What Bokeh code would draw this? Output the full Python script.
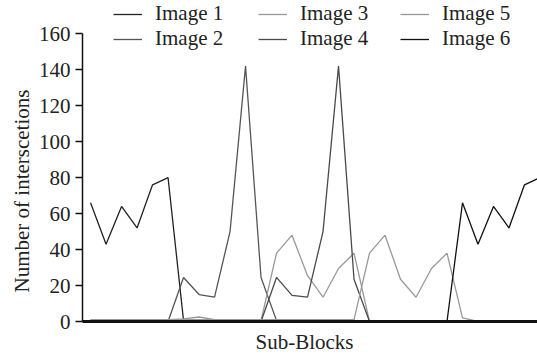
from bokeh.plotting import figure
from bokeh.models import Legend, LegendItem, Range1d, FixedTicker, Title
from bokeh.embed import file_html
from bokeh.resources import INLINE

# ---- data ----
sub_blocks = list(range(30))

image1 = [66, 43, 64, 52, 76, 80, 0.5, 0, 0, 0, 0, 0, 0, 0, 0,
          0, 0, 0, 0, 0, 0, 0, 0, 0, 0, 0, 0, 0, 0, 0]
image2 = [0.5, 0.5, 0.5, 0.5, 0.5, 0, 24.5, 15, 13.5, 50, 142, 24.5, 0.5, 0, 0,
          0, 0, 0, 0, 0, 0, 0, 0, 0, 0, 0, 0, 0, 0, 0]
image3 = [1, 1, 1, 1, 1, 1, 1.5, 2.5, 1, 1, 1, 0.5, 38, 48, 25.5,
          13.5, 29.5, 38, 0, 0, 0, 0, 0, 0, 0, 0, 0, 0, 0, 0]
image4 = [0, 0, 0, 0, 0, 0, 0, 0, 0, 0, 0, 0, 24.5, 14.5, 13.5,
          50, 142, 23.5, 0, 0, 0, 0, 0, 0, 0, 0, 0, 0, 0, 0]
image5 = [1, 1, 1, 1, 1, 1, 1, 1, 1, 1, 1, 1, 1, 1, 1,
          1, 1, 1, 38, 48, 23.5, 13.5, 29.5, 38, 2, 0, 0, 0, 0, 0]
image6 = [0, 0, 0, 0, 0, 0, 0, 0, 0, 0, 0, 0, 0, 0, 0,
          0, 0, 0, 0, 0, 0, 0, 0, 0, 66, 43, 64, 52, 76, 80]

series_names = ["Image 1", "Image 2", "Image 3", "Image 4", "Image 5", "Image 6"]
series_values = [image1, image2, image3, image4, image5, image6]
series_colors = ["#222222", "#555555", "#999999", "#4a4a4a", "#999999", "#111111"]

y_ticks = [0, 20, 40, 60, 80, 100, 120, 140, 160]
y_axis_max = 160
y_label = "Number of interscetions"
x_label = "Sub-Blocks"

FONT = "Liberation Serif, Times New Roman, serif"

# frame spans the full height above the x axis so the legend (which sits above
# the top tick) is not clipped; the y axis line itself stops at 160
p = figure(width=537, height=360, output_backend="svg", toolbar_location=None,
           x_range=Range1d(-0.52, 28.84), y_range=Range1d(0, 178.5),
           min_border_left=82, min_border_right=0, min_border_top=0,
           min_border_bottom=39)

p.outline_line_color = None
p.xgrid.visible = False
p.ygrid.visible = False
p.background_fill_color = "white"
p.border_fill_color = "white"

renderers = []
for name, vals, col in zip(series_names, series_values, series_colors):
    r = p.line(sub_blocks, vals, line_color=col, line_width=1.3)
    renderers.append(r)

# y axis
p.yaxis.ticker = FixedTicker(ticks=y_ticks)
p.yaxis.bounds = (0, y_axis_max)
p.yaxis.major_label_text_font = FONT
p.yaxis.major_label_text_font_size = "21px"
p.yaxis.major_label_text_color = "#222222"
p.yaxis.major_tick_out = 7
p.yaxis.major_tick_in = 0
p.yaxis.minor_tick_out = 0
p.yaxis.minor_tick_in = 0
p.yaxis.major_label_standoff = 5
p.yaxis.axis_line_color = "#111111"
p.yaxis.axis_line_width = 1.5
p.yaxis.major_tick_line_color = "#111111"
p.yaxis.major_tick_line_width = 1.5

# y label as a left-side title so it can sit centred on the 0-160 axis
ytitle = Title(text=y_label, align="left", offset=29, standoff=4,
               text_font=FONT, text_font_size="21px", text_font_style="normal",
               text_color="#222222")
p.add_layout(ytitle, "left")

# x axis (line only); its label is a below-title placed like the reference
p.xaxis.ticker = FixedTicker(ticks=[])
p.xaxis.major_tick_out = 0
p.xaxis.major_tick_in = 0
p.xaxis.minor_tick_out = 0
p.xaxis.minor_tick_in = 0
p.xaxis.major_label_standoff = 0
p.xaxis.axis_line_color = "#111111"
p.xaxis.axis_line_width = 3

xtitle = Title(text=x_label, align="left", offset=173, standoff=12,
               text_font=FONT, text_font_size="21px", text_font_style="normal",
               text_color="#222222")
p.add_layout(xtitle, "below")

# legends: three columns of two entries
col_x = [31, 176, 318]
for c in range(3):
    items = [LegendItem(label=series_names[2 * c + k], renderers=[renderers[2 * c + k]])
             for k in range(2)]
    leg = Legend(items=items, location=(col_x[c], 270), orientation="vertical",
                 padding=0, margin=0, spacing=0,
                 glyph_width=29, glyph_height=24, label_height=24,
                 label_standoff=13, label_text_font=FONT,
                 label_text_font_size="21px", label_text_color="#222222",
                 background_fill_alpha=0, border_line_color=None)
    p.add_layout(leg)

open("out.html", "w").write(file_html(p, INLINE))
